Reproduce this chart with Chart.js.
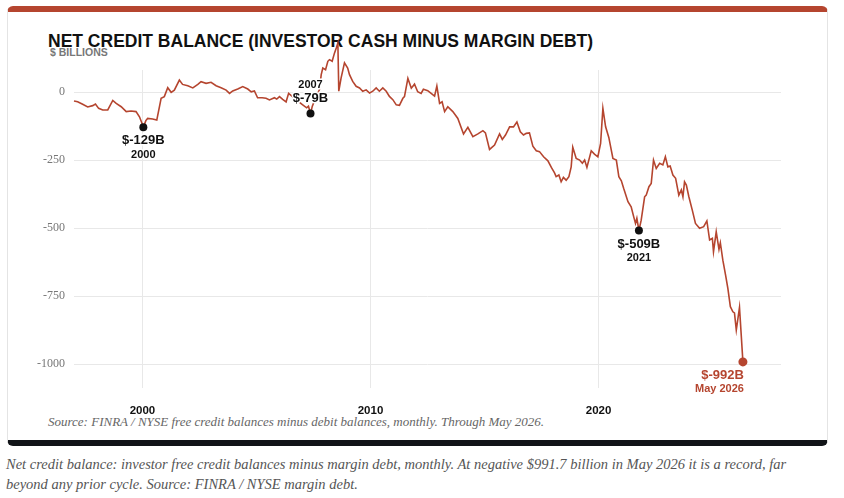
<!DOCTYPE html>
<html>
<head>
<meta charset="utf-8">
<script src="https://cdn.jsdelivr.net/npm/chart.js@4"></script>
<style>
  html, body { margin: 0; padding: 0; background: #fff; }
  body { width: 844px; height: 498px; position: relative; overflow: hidden; }
  .card {
    position: absolute; left: 7px; top: 6px; width: 821px; height: 440px;
    box-sizing: border-box; background: #fff;
    border: 1px solid #e4e4e4; border-top: 6px solid #b5452f; border-bottom: 6px solid #111418;
    border-radius: 6px;
  }
  .title {
    position: absolute; left: 48px; top: 31px; margin: 0;
    font: bold 17.5px "Liberation Sans", Arial, sans-serif; color: #111; white-space: nowrap;
  }
  .unit {
    position: absolute; left: 50px; top: 46px;
    font: bold 10.5px "Liberation Sans", Arial, sans-serif; color: #777; white-space: nowrap;
  }
  .source {
    position: absolute; left: 48px; top: 414px;
    font: italic 13px Georgia, "Liberation Serif", serif; color: #666; white-space: nowrap;
  }
  .caption {
    position: absolute; left: 6px; top: 454px; margin: 0;
    font: italic 14.5px/20px Georgia, "Liberation Serif", serif; color: #555; white-space: nowrap;
  }
  #chart { position: absolute; left: 0; top: 0; z-index: 2; }
</style>
</head>
<body>
<div class="card"></div>
<div class="title">NET CREDIT BALANCE (INVESTOR CASH MINUS MARGIN DEBT)</div>
<div class="unit">$ BILLIONS</div>
<canvas id="chart" width="844" height="440"></canvas>
<div class="source">Source: FINRA / NYSE free credit balances minus debit balances, monthly. Through May 2026.</div>
<p class="caption">Net credit balance: investor free credit balances minus margin debt, monthly. At negative $991.7 billion in May 2026 it is a record, far<br>beyond any prior cycle. Source: FINRA / NYSE margin debt.</p>

<script>
// decimal year of each reading and net credit balance ($ billions)
const years = [
  1997.00, 1997.16, 1997.38, 1997.60, 1997.82, 1997.94, 1998.08, 1998.26, 1998.48, 1998.70,
  1998.85, 1999.07, 1999.29, 1999.50, 1999.72, 1999.87, 1999.96, 2000.04, 2000.15, 2000.23,
  2000.45, 2000.63, 2000.82, 2000.96, 2001.11, 2001.26, 2001.40, 2001.62, 2001.76, 2001.99,
  2002.21, 2002.43, 2002.57, 2002.79, 2003.01, 2003.23, 2003.45, 2003.67, 2003.82, 2003.96,
  2004.18, 2004.40, 2004.62, 2004.77, 2004.91, 2005.05, 2005.25, 2005.42, 2005.57, 2005.79,
  2005.89, 2006.01, 2006.15, 2006.30, 2006.41, 2006.70, 2007.00, 2007.20, 2007.28, 2007.37,
  2007.45, 2007.60, 2007.76, 2007.84, 2007.91, 2008.03, 2008.13, 2008.20, 2008.32, 2008.42,
  2008.50, 2008.57, 2008.61, 2008.71, 2008.86, 2009.00, 2009.08, 2009.22, 2009.37, 2009.52,
  2009.66, 2009.81, 2009.96, 2010.10, 2010.25, 2010.39, 2010.54, 2010.69, 2010.83, 2010.98,
  2011.13, 2011.27, 2011.42, 2011.49, 2011.64, 2011.79, 2011.93, 2012.07, 2012.22, 2012.32,
  2012.51, 2012.66, 2012.81, 2012.91, 2013.03, 2013.14, 2013.25, 2013.39, 2013.61, 2013.83,
  2014.08, 2014.27, 2014.49, 2014.71, 2014.93, 2015.04, 2015.22, 2015.44, 2015.66, 2015.78,
  2015.92, 2016.10, 2016.27, 2016.42, 2016.57, 2016.71, 2016.83, 2016.97, 2017.12, 2017.27,
  2017.41, 2017.59, 2017.78, 2017.93, 2018.07, 2018.14, 2018.26, 2018.36, 2018.46, 2018.58,
  2018.70, 2018.80, 2018.87, 2019.02, 2019.17, 2019.29, 2019.39, 2019.49, 2019.68, 2019.82,
  2019.97, 2020.09, 2020.19, 2020.31, 2020.45, 2020.63, 2020.78, 2020.89, 2021.00, 2021.10,
  2021.29, 2021.43, 2021.54, 2021.62, 2021.68, 2021.77, 2021.87, 2022.02, 2022.09, 2022.21,
  2022.31, 2022.41, 2022.53, 2022.68, 2022.82, 2022.93, 2023.04, 2023.14, 2023.26, 2023.38,
  2023.52, 2023.63, 2023.70, 2023.77, 2023.85, 2023.96, 2024.11, 2024.25, 2024.43, 2024.61,
  2024.75, 2024.87, 2024.99, 2025.04, 2025.16, 2025.28, 2025.34, 2025.45, 2025.57, 2025.67,
  2025.78, 2025.89, 2025.96, 2026.04, 2026.18, 2026.33
];
const netCredit = [
  -33, -36, -45, -55, -50, -44, -60, -66, -66, -31,
  -42, -54, -72, -70, -72, -91, -110, -129, -105, -97,
  -99, -103, -23, -17, 16, -1, 7, 44, 28, 23,
  15, 28, 38, 32, 36, 23, 16, 7, -5, 4,
  11, 20, 11, 1, 4, -21, -21, -23, -29, -21,
  -26, -17, -27, -36, -5, -25, -45, -58, -52, -79,
  -52, -20, 8, 64, 88, 82, 113, 119, 113, 143,
  162, 180, 3, 51, 107, 88, 64, 39, 21, 15,
  3, 8, -4, 3, 15, 3, 15, 3, -16, -28,
  -47, -49, -23, -17, 50, 14, 29, 1, -5, 10,
  5, -5, -15, 22, -42, -36, -72, -54, -72, -97,
  -154, -130, -164, -154, -142, -150, -211, -195, -154, -174,
  -158, -128, -128, -110, -146, -158, -152, -150, -199, -216,
  -219, -238, -253, -277, -297, -311, -305, -330, -314, -324,
  -311, -275, -203, -244, -250, -262, -250, -277, -216, -228,
  -238, -189, -60, -128, -167, -244, -250, -311, -326, -354,
  -403, -422, -458, -483, -464, -509, -471, -385, -379, -348,
  -336, -250, -281, -262, -268, -238, -275, -272, -305, -317,
  -379, -360, -385, -330, -342, -385, -434, -483, -501, -495,
  -474, -544, -538, -587, -514, -578, -554, -618, -673, -722,
  -789, -808, -812, -875, -792, -992
];

const xTicks = [2000, 2010, 2020];
const yTicks = [0, -250, -500, -750, -1000];

// called-out readings
const calloutYears = [2000.04, 2007.37, 2021.77, 2026.33];
const calloutValues = [-129, -79, -509, -992];
const calloutLabels = ['$-129B', '$-79B', '$-509B', '$-992B'];
const calloutSubs = ['2000', '2007', '2021', 'May 2026'];

const RED = '#b5452f';

// dots + labels with a white halo so they sit on top of the line
const callouts = {
    id: 'callouts',
    afterDatasetsDraw(chart) {
        const { ctx, scales: { x, y } } = chart;
        ctx.save();
        calloutYears.forEach((yr, i) => {
            const px = x.getPixelForValue(yr);
            const py = y.getPixelForValue(calloutValues[i]);
            const last = i === calloutYears.length - 1;
            const above = i === 1;
            const color = last ? RED : '#111';

            ctx.fillStyle = color;
            ctx.beginPath();
            ctx.arc(px, py, last ? 4.5 : 4, 0, Math.PI * 2);
            ctx.fill();

            ctx.textAlign = last ? 'right' : 'center';
            ctx.textBaseline = 'middle';
            ctx.lineJoin = 'round';
            ctx.strokeStyle = '#fff';
            ctx.lineWidth = 3;
            const tx = last ? px + 1 : px;
            const mainY = above ? py - 15 : py + 13.5;
            const subY = above ? py - 29 : py + 27.5;

            ctx.font = 'bold 13px "Liberation Sans", Arial, sans-serif';
            ctx.strokeText(calloutLabels[i], tx, mainY);
            ctx.fillText(calloutLabels[i], tx, mainY);

            ctx.font = '600 11px "Liberation Sans", Arial, sans-serif';
            ctx.strokeText(calloutSubs[i], tx, subY);
            ctx.fillText(calloutSubs[i], tx, subY);
        });
        ctx.restore();
    }
};

const ctx = document.getElementById('chart').getContext('2d');
new Chart(ctx, {
    type: 'line',
    data: {
        datasets: [{
            data: years.map((yr, i) => ({ x: yr, y: netCredit[i] })),
            borderColor: RED,
            borderWidth: 1.6,
            pointRadius: 0,
            tension: 0,
            clip: false
        }]
    },
    options: {
        responsive: false,
        animation: false,
        layout: { padding: { left: 0, right: 63, top: 70, bottom: 0 } },
        plugins: {
            legend: { display: false },
            tooltip: { enabled: false }
        },
        scales: {
            x: {
                type: 'linear',
                min: 1997,
                max: 2028,
                afterBuildTicks: (s) => { s.ticks = xTicks.map(v => ({ value: v })); },
                afterFit: (s) => { s.height = 52; },
                grid: { color: '#e8e8e8', drawTicks: false },
                border: { display: false },
                ticks: {
                    padding: 16,
                    maxRotation: 0,
                    color: '#111',
                    font: { family: '"Liberation Sans", Arial, sans-serif', size: 11.5, weight: 'bold' },
                    callback: (v) => String(v)
                }
            },
            y: {
                min: -1088,
                max: 81,
                afterBuildTicks: (s) => { s.ticks = yTicks.map(v => ({ value: v })); },
                afterFit: (s) => { s.width = 74; },
                grid: { color: '#e8e8e8', drawTicks: false },
                border: { display: false },
                ticks: {
                    padding: 9,
                    color: '#777',
                    font: { family: 'Georgia, "Liberation Serif", serif', size: 12 },
                    callback: (v) => String(v)
                }
            }
        }
    },
    plugins: [callouts]
});
</script>
</body>
</html>
